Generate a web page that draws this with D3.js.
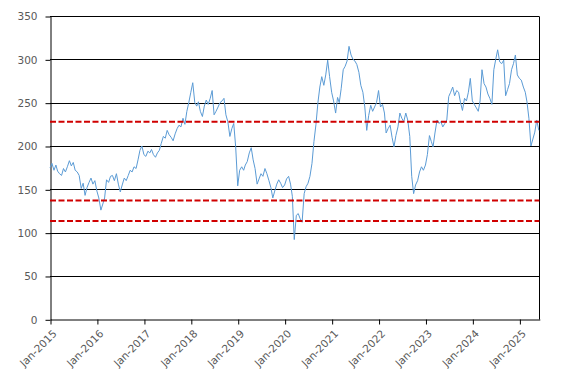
<!DOCTYPE html>
<html><head><meta charset="utf-8">
<script src="https://cdn.jsdelivr.net/npm/d3@7"></script>
<style>body{margin:0;background:#fff;} text{font-family:"DejaVu Sans",Verdana,sans-serif;}</style>
</head><body><svg id="c" width="567" height="383"></svg>
<script>
// semi-monthly observations (1st and 16th of each month), Jan-2015 .. Jun-2025
const startMonth = "2015-01";
const values = [
175,180, 172,178, 171,168, 166,174, 170,176, 183,177, 181,172, 170,166, 151,157, 143,152, 158,163, 156,160,
148,140, 126,133, 140,161, 158,165, 166,160, 168,156, 147,155, 163,160, 166,172, 170,176, 174,184, 195,200,
190,188, 194,192, 196,190, 187,192, 195,203, 211,209, 218,213, 210,206, 214,220, 224,222, 232,225, 240,250,
262,273, 250,246, 251,240, 234,246, 253,248, 255,264, 236,240, 245,250, 252,255, 236,228, 211,220, 226,199,
154,172, 176,172, 178,182, 192,198, 184,174, 156,162, 168,165, 174,168, 160,152, 140,148, 156,161, 157,152,
155,162, 165,156, 142,92, 120,122, 116,112, 145,153, 157,165, 180,205, 225,250, 268,280, 270,282, 299,280,
262,252, 238,256, 250,266, 288,292, 298,315, 305,300, 298,294, 285,270, 262,245, 218,235, 247,240, 245,250,
264,245, 248,238, 215,220, 224,210, 199,212, 222,238, 232,228, 238,230, 211,165, 145,155, 160,170, 176,172,
178,190, 212,205, 199,215, 230,226, 228,222, 226,230, 257,262, 268,258, 264,262, 250,241, 255,252, 262,278,
252,248, 244,240, 252,288, 272,268, 260,255, 248,288, 300,311, 297,295, 299,258, 265,272, 288,295, 305,282,
278,276, 268,262, 251,232, 200,208, 216,230, 218
];
const yTicks = [0,50,100,150,200,250,300,350];
const xTickYears = [2015,2016,2017,2018,2019,2020,2021,2022,2023,2024,2025];
const refLevels = [228,137,113.5];

const svg = d3.select("#c");
const m = {l:50, r:539.3, t:16, b:319.3};
const start = d3.timeParse("%Y-%m")(startMonth);
const dates = values.map((v,i)=>{
  const d = d3.timeMonth.offset(start, Math.floor(i/2));
  return i%2 ? new Date(d.getFullYear(), d.getMonth(), 16) : d;
});
const data = values.map((v,i)=>({d:dates[i], v}));

const x = d3.scaleTime().domain([new Date(2015,0,1), new Date(2025,5,5)]).range([m.l, m.r]);
const y = d3.scaleLinear().domain([0,350]).range([m.b, m.t]);

// gridlines
svg.append("g").selectAll("line").data(yTicks.filter(t=>t>0)).join("line")
  .attr("x1",m.l).attr("x2",m.r).attr("y1",d=>Math.round(y(d))+0.5).attr("y2",d=>Math.round(y(d))+0.5)
  .attr("stroke","#000").attr("stroke-width",1);
// right border
svg.append("line").attr("x1",Math.round(m.r)+0.5).attr("x2",Math.round(m.r)+0.5)
  .attr("y1",Math.round(y(350))+0.5).attr("y2",Math.round(m.b)+0.5).attr("stroke","#000");

// y axis
const ya = svg.append("g").attr("transform",`translate(${m.l+0.5},0.5)`)
  .call(d3.axisLeft(y).tickValues(yTicks).tickSize(5).tickSizeOuter(0).tickPadding(8));
ya.select(".domain").attr("stroke","#000");
ya.selectAll(".tick line").attr("stroke","#000");
ya.selectAll("text").attr("fill","#595959").style("font-size","10.5px");

// x axis
const xa = svg.append("g").attr("transform",`translate(0.5,${Math.round(m.b)+0.5})`)
  .call(d3.axisBottom(x).tickValues(xTickYears.map(yr=>new Date(yr,0,1))).tickSize(5).tickSizeOuter(0)
  .tickFormat(d3.timeFormat("%b-%Y")));
xa.select(".domain").attr("stroke","#000");
xa.selectAll(".tick line").attr("stroke","#000");
xa.selectAll("text").attr("fill","#595959").style("font-size","10.5px")
  .style("text-anchor","end").attr("x",-6).attr("y",15).attr("dx",0).attr("dy",0)
  .attr("transform","rotate(-45)");

// series
svg.append("path").datum(data)
  .attr("fill","none").attr("stroke","#5b9bd5").attr("stroke-width",1)
  .attr("d", d3.line().x(d=>x(d.d)).y(d=>y(d.v)));

// reference lines
svg.append("g").selectAll("line").data(refLevels).join("line")
  .attr("x1",m.l).attr("x2",m.r).attr("y1",d=>y(d)).attr("y2",d=>y(d))
  .attr("stroke","#d00000").attr("stroke-width",2).attr("stroke-dasharray","6,2.5");
</script></body></html>
